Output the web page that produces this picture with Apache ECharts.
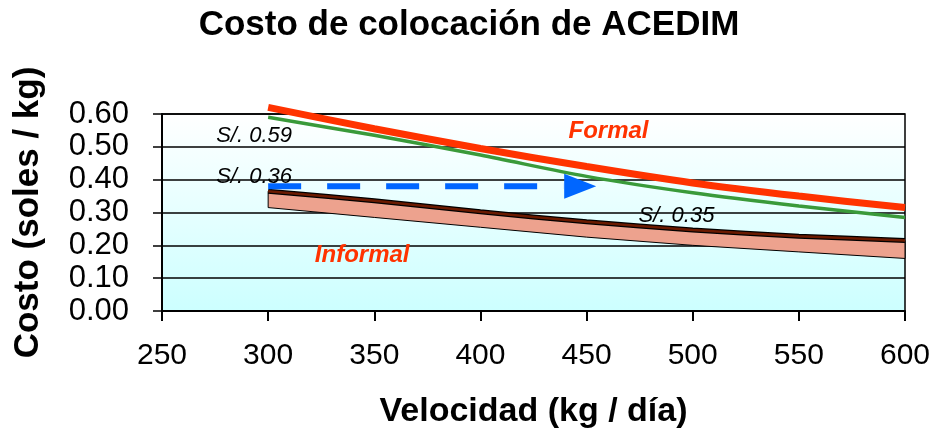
<!DOCTYPE html>
<html>
<head>
<meta charset="utf-8">
<script src="https://cdn.jsdelivr.net/npm/echarts@6/dist/echarts.min.js"></script>
<style>html,body{margin:0;padding:0;background:#fff;}#c{width:938px;height:439px;}</style>
</head>
<body>
<div id="c"></div>
<script>
// ---- data ----
const velocidad = [300, 350, 400, 450, 500, 550, 600];
const formal = [0.62, 0.555, 0.495, 0.44, 0.39, 0.35, 0.315];
const formalVerde = [0.59, 0.535, 0.475, 0.41, 0.36, 0.32, 0.285];
const informalSup = [0.365, 0.336, 0.302, 0.272, 0.247, 0.228, 0.215];
const informalInf = [0.315, 0.285, 0.255, 0.225, 0.200, 0.180, 0.160];
const flecha = { desde: 300, hasta: 439, punta: 447, valor: 0.38 };
const yTicks = [0, 0.1, 0.2, 0.3, 0.4, 0.5, 0.6];
const xTicks = [250, 300, 350, 400, 450, 500, 550, 600];
const notas = [
  { texto: 'S/. 0.59', x: 275.5, y: 0.532, estilo: 'plain' },
  { texto: 'S/. 0.36', x: 275.5, y: 0.407, estilo: 'plain' },
  { texto: 'S/. 0.35', x: 474.5, y: 0.29, estilo: 'plain' },
  { texto: 'Formal', x: 441.5, y: 0.547, estilo: 'red' },
  { texto: 'Informal', x: 322, y: 0.168, estilo: 'red' }
];

const pairs = (ys) => velocidad.map((v, i) => [v, ys[i]]);
const FONT = 'Liberation Sans, Arial, sans-serif';

const chart = echarts.init(document.getElementById('c'), null, { renderer: 'canvas' });
chart.setOption({
  animation: false,
  backgroundColor: '#ffffff',
  title: {
    text: 'Costo de colocación de ACEDIM',
    left: 'center', top: 3,
    textStyle: { fontFamily: FONT, fontSize: 35, fontWeight: 'bold', color: '#000' }
  },
  grid: {
    left: 162, right: 33, top: 114, bottom: 128,
    show: true, borderColor: '#000', borderWidth: 1.5,
    backgroundColor: new echarts.graphic.LinearGradient(0, 0, 0, 1, [
      { offset: 0, color: '#ffffff' }, { offset: 1, color: '#ccffff' }
    ])
  },
  xAxis: {
    type: 'value', min: xTicks[0], max: xTicks[xTicks.length - 1], interval: 50,
    name: 'Velocidad (kg / día)', nameLocation: 'middle', nameGap: 84,
    nameTextStyle: { fontFamily: FONT, fontSize: 34, fontWeight: 'bold', color: '#000' },
    axisLine: { lineStyle: { color: '#000', width: 2 } },
    axisTick: { show: true, length: 10, lineStyle: { color: '#000', width: 2 } },
    axisLabel: { fontFamily: FONT, fontSize: 30, color: '#000', margin: 30 },
    splitLine: { show: false }
  },
  yAxis: {
    type: 'value', min: yTicks[0], max: yTicks[yTicks.length - 1], interval: 0.1,
    name: 'Costo (soles / kg)', nameLocation: 'middle', nameGap: 116, nameRotate: 90,
    nameTextStyle: { fontFamily: FONT, fontSize: 35, fontWeight: 'bold', color: '#000' },
    axisLine: { show: true, lineStyle: { color: '#000', width: 2 } },
    axisTick: { show: true, length: 9, lineStyle: { color: '#000', width: 1.5 } },
    axisLabel: { fontFamily: FONT, fontSize: 31, color: '#000', margin: 33,
      formatter: (v) => v.toFixed(2) },
    splitLine: { show: true, lineStyle: { color: '#000', width: 1.5 } }
  },
  series: [
    { type: 'custom', name: 'banda', z: 2,
      data: velocidad.map((v, i) => [v, informalInf[i], informalSup[i]]),
      renderItem: function (params, api) {
        if (params.dataIndex !== 0) return null;
        const top = velocidad.map((v, i) => api.coord([v, informalSup[i]]));
        const bot = velocidad.map((v, i) => api.coord([v, informalInf[i]])).reverse();
        return {
          type: 'polygon',
          shape: { points: top.concat(bot) },
          style: { fill: '#eda28e', stroke: '#000', lineWidth: 1 }
        };
      }
    },
    { type: 'line', name: 'infSupNegro', data: pairs(informalSup), symbol: 'none', smooth: 0.3,
      lineStyle: { color: '#000', width: 5 }, z: 4 },
    { type: 'line', name: 'infSup', data: pairs(informalSup), symbol: 'none', smooth: 0.3,
      lineStyle: { color: '#6b1a00', width: 2.5 }, z: 5 },
    { type: 'line', name: 'verde', data: pairs(formalVerde), symbol: 'none', smooth: 0.3,
      lineStyle: { color: '#3a9a3a', width: 3.5 }, z: 6, clip: false },
    { type: 'line', name: 'formal', data: pairs(formal), symbol: 'none', smooth: 0.3,
      lineStyle: { color: '#ff3300', width: 7, cap: 'butt' }, z: 7, clip: false },
    { type: 'line', name: 'flecha', data: [[flecha.desde, flecha.valor], [flecha.hasta, flecha.valor]],
      symbol: 'none', lineStyle: { color: '#0066ff', width: 6, type: [33, 26], cap: 'butt' }, z: 8 },
    { type: 'scatter', name: 'punta', data: [[flecha.punta, flecha.valor]],
      symbol: 'triangle', symbolSize: [25, 32], symbolRotate: -90,
      itemStyle: { color: '#0066ff', opacity: 1 }, z: 8 },
    { type: 'scatter', name: 'notas', symbolSize: 0, z: 9, itemStyle: { opacity: 1 },
      data: notas.map(n => ({
        value: [n.x, n.y],
        label: {
          show: true, position: 'right', distance: 0, formatter: n.texto,
          fontFamily: FONT,
          fontSize: n.estilo === 'red' ? 24 : 22,
          fontStyle: 'italic',
          fontWeight: n.estilo === 'red' ? 'bold' : 'normal',
          color: n.estilo === 'red' ? '#ff3300' : '#000'
        }
      }))
    }
  ]
});
</script>
</body>
</html>
